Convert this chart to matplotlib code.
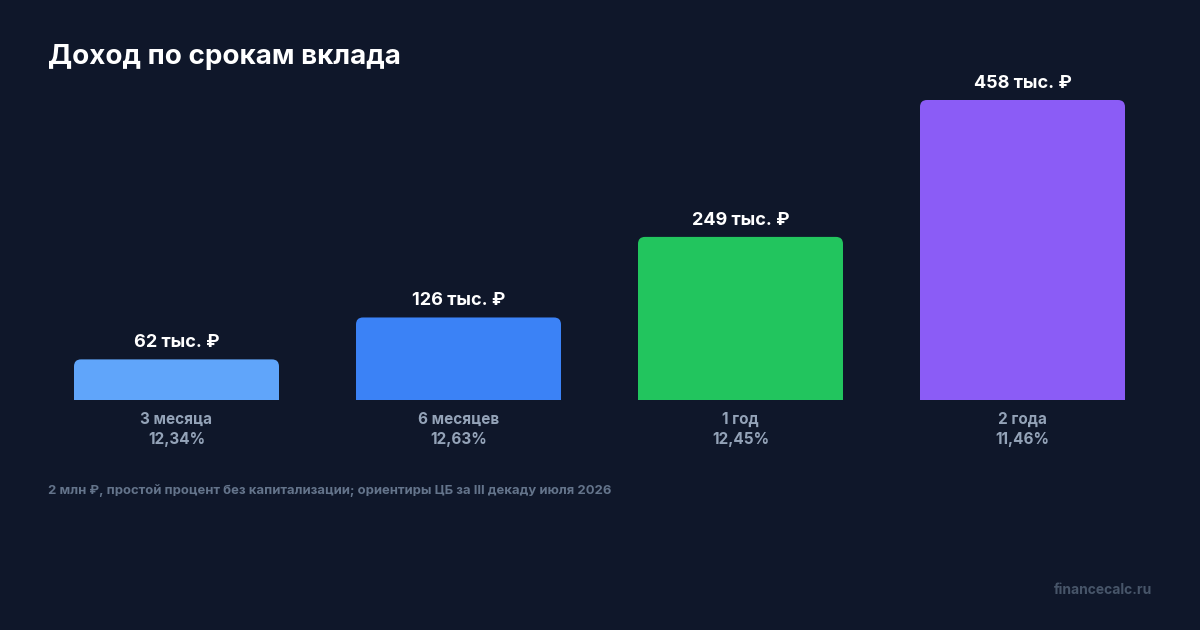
import matplotlib
matplotlib.use("Agg")
import matplotlib.pyplot as plt
from matplotlib.patches import FancyBboxPatch

plt.rcParams['font.family'] = ['Inter', 'DejaVu Sans']

# data
terms = ["3 месяца", "6 месяцев", "1 год", "2 года"]
rates = ["12,34%", "12,63%", "12,45%", "11,46%"]
income = [62, 126, 249, 458]  # тыс. руб.
colors = ["#60A5FA", "#3B82F6", "#22C55E", "#8B5CF6"]

bg = "#0F172A"
W, H = 1200, 630

fig = plt.figure(figsize=(12, 6.3), dpi=100, facecolor=bg)

# axes: baseline at y=400px, 458 -> y=100px
px_per_unit = 300 / 458
ytop = 520
ax_h = ytop * px_per_unit
ax = fig.add_axes([35.5 / W, (H - 400) / H, 1128 / W, ax_h / H])
ax.set_facecolor(bg)
ax.set_xlim(-0.5, len(terms) - 0.5)
ax.set_ylim(0, ytop)
ax.axis("off")

bars = ax.bar(range(len(terms)), income, width=205 / 282, color=colors)
fig.canvas.draw()

# swap plain bars for ones with rounded top corners
r = 7
for b, c in zip(bars, colors):
    bb = b.get_window_extent()
    b.set_visible(False)
    p = FancyBboxPatch((bb.x0, bb.y0 - r), bb.width, bb.height + r,
                       boxstyle=f"round,pad=0,rounding_size={r}",
                       facecolor=c, edgecolor="none", transform=None)
    ax.add_patch(p)
    p.set_clip_box(ax.bbox)

for i, v in enumerate(income):
    ax.annotate(f"{v} тыс. ₽", (i, v), xytext=(0, 6), textcoords="offset points",
                ha="center", va="bottom", color="white", fontsize=13,
                fontweight="bold", annotation_clip=False)
    ax.annotate(terms[i], (i, 0), xytext=(0, -14), textcoords="offset points",
                ha="center", va="center", color="#94A3B8", fontsize=11,
                fontweight="bold", annotation_clip=False)
    ax.annotate(rates[i], (i, 0), xytext=(0, -28.5), textcoords="offset points",
                ha="center", va="center", color="#94A3B8", fontsize=11,
                fontweight="bold", annotation_clip=False)

fig.text(48 / W, 1 - 57 / H, "Доход по срокам вклада", color="white",
         fontsize=20, fontweight="bold", ha="left", va="center")
fig.text(48 / W, 1 - 491 / H,
         "2 млн ₽, простой процент без капитализации; ориентиры ЦБ за III декаду июля 2026",
         color="#64748B", fontsize=9.4, fontweight="bold", ha="left", va="center")
fig.text(1152 / W, 1 - 590 / H, "financecalc.ru", color="#475569",
         fontsize=10, fontweight="bold", ha="right", va="center")

fig.savefig("out.png", dpi=100, facecolor=bg)
